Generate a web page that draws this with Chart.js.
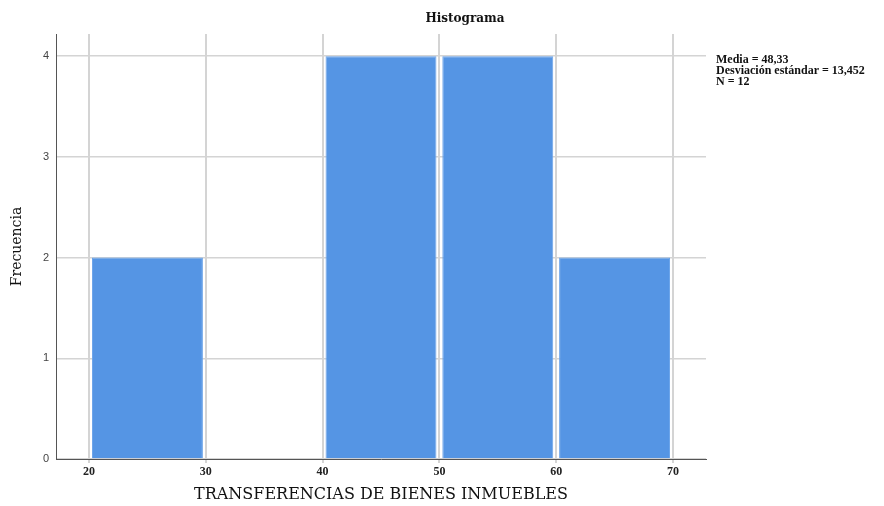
<!DOCTYPE html>
<html>
<head>
<meta charset="utf-8">
<script src="https://cdn.jsdelivr.net/npm/chart.js@4"></script>
<style>
  html, body { margin: 0; padding: 0; background: #fff; }
  #wrap { width: 884px; height: 506px; }
</style>
</head>
<body>
<div id="wrap"><canvas id="hist" width="884" height="506"></canvas></div>
<script>
// histogram bins (midpoints) and counts
var binCenters = [25, 35, 45, 55, 65];
var counts = [2, 0, 4, 4, 2];
var xTicks = [20, 30, 40, 50, 60, 70];
var yTicks = [0, 1, 2, 3, 4];
var statsLines = ['Media = 48,33', 'Desviación estándar = 13,452', 'N = 12'];

var serif = '"DejaVu Serif", "Liberation Serif", serif';
var timesLike = '"Liberation Serif", serif';
var sans = '"Liberation Sans", Arial, sans-serif';

// Title + stats box drawn on the canvas
var textPlugin = {
    id: 'textPlugin',
    afterDraw: function (chart) {
        var ctx = chart.ctx;
        ctx.save();
        ctx.fillStyle = '#111';
        ctx.textBaseline = 'middle';
        ctx.textAlign = 'center';
        ctx.font = 'bold 12px ' + serif;
        ctx.fillText('Histograma', 465, 19);
        ctx.textAlign = 'left';
        ctx.font = 'bold 12px ' + timesLike;
        statsLines.forEach(function (t, i) {
            ctx.fillText(t, 716, 60 + i * 11);
        });
        ctx.restore();
    }
};

new Chart(document.getElementById('hist'), {
    type: 'bar',
    data: {
        datasets: [{
            data: binCenters.map(function (x, i) { return { x: x, y: counts[i] }; }),
            backgroundColor: '#5595e4',
            borderColor: '#6aa3ea',
            borderWidth: 1,
            borderSkipped: 'bottom',
            barPercentage: 0.95,
            categoryPercentage: 1
        }]
    },
    options: {
        responsive: false,
        animation: false,
        layout: { padding: { top: 34, right: 178, left: 0, bottom: 0 } },
        plugins: {
            legend: { display: false },
            tooltip: { enabled: false }
        },
        scales: {
            x: {
                type: 'linear',
                offset: false,
                min: 17.17,
                max: 72.83,
                afterBuildTicks: function (s) { s.ticks = xTicks.map(function (v) { return { value: v }; }); },
                afterFit: function (s) { s.height = 47; },
                grid: { offset: false, color: '#d4d4d4', lineWidth: 2, drawTicks: true, tickLength: 4, tickColor: '#d4d4d4' },
                border: { color: '#555', width: 1 },
                ticks: { color: '#222', font: { family: timesLike, size: 12, weight: 'bold' }, padding: 2, maxRotation: 0 },
                title: {
                    display: true,
                    text: 'TRANSFERENCIAS DE BIENES INMUEBLES',
                    color: '#111',
                    font: { family: serif, size: 16 },
                    padding: { top: 0, bottom: 2 }
                }
            },
            y: {
                min: 0,
                max: 4.22,
                afterBuildTicks: function (s) { s.ticks = yTicks.map(function (v) { return { value: v }; }); },
                afterFit: function (s) { s.width = 56; },
                grid: { color: '#d4d4d4', lineWidth: 1.5, drawTicks: false },
                border: { color: '#555', width: 1 },
                ticks: { color: '#444', font: { family: sans, size: 11 }, padding: 7 },
                title: {
                    display: true,
                    text: 'Frecuencia',
                    color: '#111',
                    font: { family: serif, size: 14 },
                    padding: { top: 9, bottom: 0 }
                }
            }
        }
    },
    plugins: [textPlugin]
});
</script>
</body>
</html>
